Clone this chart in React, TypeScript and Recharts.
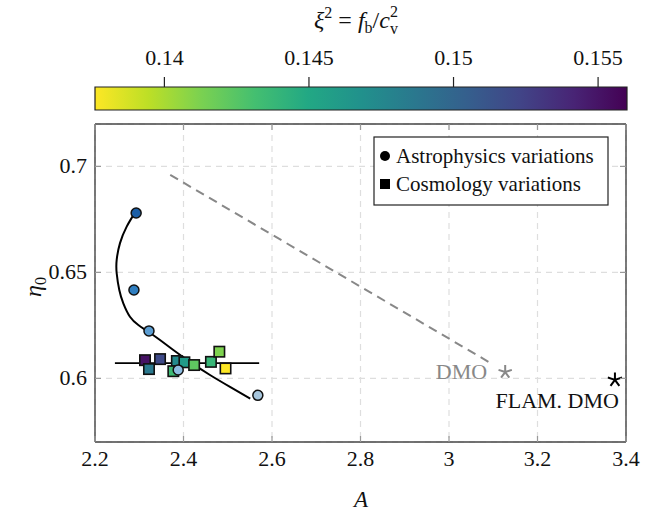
import React from 'react';
import { ComposedChart, Line, Scatter, XAxis, YAxis, CartesianGrid, ReferenceArea } from 'recharts';

// ---------- data ----------
const X_TICKS = [2.2, 2.4, 2.6, 2.8, 3.0, 3.2, 3.4];
const Y_TICKS = [0.6, 0.65, 0.7];
const X_DOMAIN = [2.2, 3.4];
const Y_DOMAIN = [0.57, 0.72];
const CB_TICKS = [0.14, 0.145, 0.15, 0.155];
const CB_DOMAIN = [0.1376, 0.156];

// Astrophysics variations (circles)
const ASTRO = [
  { x: 2.293, y: 0.678 },
  { x: 2.288, y: 0.6417 },
  { x: 2.322, y: 0.6224 },
  { x: 2.388, y: 0.604 },
  { x: 2.568, y: 0.592 },
];

// Cosmology variations (squares), xi = f_b / c_v^2
const COSMO = [
  { x: 2.313, y: 0.6086, xi: 0.1551 },
  { x: 2.347, y: 0.6091, xi: 0.1519 },
  { x: 2.322, y: 0.6044, xi: 0.1486 },
  { x: 2.385, y: 0.6082, xi: 0.1473 },
  { x: 2.402, y: 0.6076, xi: 0.146 },
  { x: 2.377, y: 0.6034, xi: 0.1435 },
  { x: 2.424, y: 0.6063, xi: 0.1422 },
  { x: 2.462, y: 0.6078, xi: 0.1438 },
  { x: 2.481, y: 0.6126, xi: 0.1412 },
  { x: 2.495, y: 0.6047, xi: 0.1376 },
];

// fitted curve through astrophysics variations
const ASTRO_FIT = [
  { x: 2.29, y: 0.6781 },
  { x: 2.2716, y: 0.6716 },
  { x: 2.2565, y: 0.6638 },
  { x: 2.249, y: 0.6559 },
  { x: 2.249, y: 0.6496 },
  { x: 2.2549, y: 0.6417 },
  { x: 2.264, y: 0.6354 },
  { x: 2.279, y: 0.6291 },
  { x: 2.2979, y: 0.6252 },
  { x: 2.3205, y: 0.622 },
  { x: 2.3469, y: 0.6181 },
  { x: 2.377, y: 0.6134 },
  { x: 2.4147, y: 0.6078 },
  { x: 2.4599, y: 0.6016 },
  { x: 2.5051, y: 0.596 },
  { x: 2.5508, y: 0.5905 },
];

// horizontal fit through cosmology variations
const COSMO_FIT = [
  { x: 2.245, y: 0.6072 },
  { x: 2.571, y: 0.6072 },
];

// dashed track towards DMO
const DMO_TRACK = [
  { x: 2.37, y: 0.696 },
  { x: 3.1, y: 0.6065 },
];

const DMO = [{ x: 3.127, y: 0.603, label: 'DMO' }];
const FLAM_DMO = [{ x: 3.375, y: 0.5993, label: 'FLAM. DMO' }];

const CB_DATA = [
  { x: CB_DOMAIN[0], y: 0 },
  { x: CB_DOMAIN[1], y: 1 },
];

// ---------- styles ----------
const FONT = '"Liberation Serif", "Times New Roman", serif';
const ASTRO_COLORS = ['#1b5ea6', '#2f7ec0', '#5b9dd2', '#8dbde2', '#a7c6dd'];
const VIRIDIS = ['#440154', '#482475', '#414487', '#355f8d', '#2a788e', '#21918c', '#22a884', '#44bf70', '#7ad151', '#bddf26', '#fde725'];

function hexToRgb(h: string) {
  return [parseInt(h.slice(1, 3), 16), parseInt(h.slice(3, 5), 16), parseInt(h.slice(5, 7), 16)];
}
function viridis(t: number) {
  const tt = Math.max(0, Math.min(1, t)) * (VIRIDIS.length - 1);
  const i = Math.min(VIRIDIS.length - 2, Math.floor(tt));
  const f = tt - i;
  const a = hexToRgb(VIRIDIS[i]);
  const b = hexToRgb(VIRIDIS[i + 1]);
  const c = a.map((v, k) => Math.round(v + (b[k] - v) * f));
  return `rgb(${c[0]},${c[1]},${c[2]})`;
}
// reversed colormap: low values yellow, high values purple
function xiColor(xi: number) {
  return viridis((CB_DOMAIN[1] - xi) / (CB_DOMAIN[1] - CB_DOMAIN[0]));
}

const TICK_COLOR = '#999';
const AXIS_LINE = { stroke: '#444', strokeWidth: 1.4 };
const TEXT_STYLE: React.CSSProperties = { fontFamily: FONT, fontSize: 22, fill: '#111' };

// ---------- custom ticks ----------
const BottomTick = (p: any) => (
  <g>
    <line x1={p.x} x2={p.x} y1={p.y} y2={p.y - 6} stroke={TICK_COLOR} strokeWidth={1.2} />
    <text x={p.x} y={p.y + 24} textAnchor="middle" style={TEXT_STYLE}>{String(p.payload.value)}</text>
  </g>
);
const TopTick = (p: any) => (
  <line x1={p.x} x2={p.x} y1={p.y} y2={p.y + 6} stroke={TICK_COLOR} strokeWidth={1.2} />
);
const LeftTick = (p: any) => (
  <g>
    <line x1={p.x} x2={p.x + 6} y1={p.y} y2={p.y} stroke={TICK_COLOR} strokeWidth={1.2} />
    <text x={p.x - 8} y={p.y + 7} textAnchor="end" style={TEXT_STYLE}>{String(p.payload.value)}</text>
  </g>
);
const RightTick = (p: any) => (
  <line x1={p.x} x2={p.x - 6} y1={p.y} y2={p.y} stroke={TICK_COLOR} strokeWidth={1.2} />
);
const CbTick = (p: any) => (
  <g>
    <line x1={p.x} x2={p.x} y1={p.y} y2={p.y - 10} stroke="#222" strokeWidth={1.2} />
    <text x={p.x} y={p.y - 22} textAnchor="middle" style={TEXT_STYLE}>{String(p.payload.value)}</text>
  </g>
);

// ---------- marker shapes ----------
const AstroDot = (p: any) => {
  const idx = ASTRO.findIndex((d) => d.x === p.payload?.x && d.y === p.payload?.y);
  return <circle cx={p.cx} cy={p.cy} r={5} fill={ASTRO_COLORS[Math.max(0, idx)]} stroke="#111" strokeWidth={1.5} />;
};
const CosmoSquare = (p: any) => (
  <rect x={p.cx - 5.2} y={p.cy - 5.2} width={10.4} height={10.4} fill={xiColor(p.payload.xi)} stroke="#111" strokeWidth={1.6} />
);
function starPath(cx: number, cy: number, r: number) {
  let d = '';
  for (let k = 0; k < 5; k++) {
    const a = (-90 + k * 72) * Math.PI / 180;
    d += `M${cx},${cy}L${cx + r * Math.cos(a)},${cy + r * Math.sin(a)}`;
  }
  return d;
}
const DmoStar = (p: any) => (
  <g>
    <path d={starPath(p.cx, p.cy, 7)} stroke="#888" strokeWidth={2} fill="none" />
    <text x={p.cx - 18} y={p.cy + 7} textAnchor="end" style={{ ...TEXT_STYLE, fill: '#888' }}>{p.payload.label}</text>
  </g>
);
const FlamStar = (p: any) => (
  <g>
    <path d={starPath(p.cx, p.cy, 7.5)} stroke="#000" strokeWidth={2} fill="none" />
    <text x={p.cx + 4} y={p.cy + 28} textAnchor="end" style={TEXT_STYLE}>{p.payload.label}</text>
  </g>
);

export default function App() {
  return (
    <div style={{ position: 'absolute', left: 0, top: 0, width: 665, height: 512, background: '#fff' }}>
      {/* colorbar */}
      <div style={{ position: 'absolute', left: 0, top: 0 }}>
        <ComposedChart width={665} height={120} data={CB_DATA} margin={{ top: 86, right: 38, bottom: 10, left: 95 }}>
          <defs>
            <linearGradient id="viridisBar" x1="0" y1="0" x2="1" y2="0">
              {VIRIDIS.map((_, i) => (
                <stop key={i} offset={i / (VIRIDIS.length - 1)} stopColor={viridis(1 - i / (VIRIDIS.length - 1))} />
              ))}
            </linearGradient>
          </defs>
          <XAxis dataKey="x" type="number" orientation="top" domain={CB_DOMAIN} ticks={CB_TICKS} allowDataOverflow
            height={1} tickSize={0} tickMargin={0} axisLine={false} tickLine={false} tick={<CbTick />} />
          <YAxis dataKey="y" type="number" domain={[0, 1]} hide />
          <Line dataKey="y" stroke="none" dot={false} isAnimationActive={false} />
          <ReferenceArea x1={CB_DOMAIN[0]} x2={CB_DOMAIN[1]} y1={0} y2={1} fill="url(#viridisBar)" fillOpacity={1} stroke="#222" strokeWidth={1.2} />
        </ComposedChart>
      </div>

      {/* main chart */}
      <div style={{ position: 'absolute', left: 0, top: 0 }}>
        <ComposedChart width={665} height={512} margin={{ top: 123, right: 38, bottom: 69, left: 94 }}>
          <CartesianGrid stroke="#dedede" strokeDasharray="6 5" strokeWidth={1.2} />
          <XAxis dataKey="x" type="number" domain={X_DOMAIN} ticks={X_TICKS} allowDataOverflow
            height={1} tickSize={0} tickMargin={0} axisLine={AXIS_LINE} tickLine={false} tick={<BottomTick />} />
          <XAxis xAxisId="top" dataKey="x" type="number" orientation="top" domain={X_DOMAIN} ticks={X_TICKS} allowDataOverflow
            height={1} tickSize={0} tickMargin={0} axisLine={AXIS_LINE} tickLine={false} tick={<TopTick />} />
          <YAxis dataKey="y" type="number" domain={Y_DOMAIN} ticks={Y_TICKS} allowDataOverflow
            width={1} tickSize={0} tickMargin={0} axisLine={AXIS_LINE} tickLine={false} tick={<LeftTick />} />
          <YAxis yAxisId="right" dataKey="y" type="number" orientation="right" domain={Y_DOMAIN} ticks={Y_TICKS} allowDataOverflow
            width={1} tickSize={0} tickMargin={0} axisLine={AXIS_LINE} tickLine={false} tick={<RightTick />} />

          <Line data={DMO_TRACK} dataKey="y" type="linear" stroke="#888" strokeWidth={2} strokeDasharray="9 6" dot={false} isAnimationActive={false} />
          <Line data={ASTRO_FIT} dataKey="y" type="natural" stroke="#000" strokeWidth={2} dot={false} isAnimationActive={false} />
          <Line data={COSMO_FIT} dataKey="y" type="linear" stroke="#000" strokeWidth={1.6} dot={false} isAnimationActive={false} />

          <Scatter data={COSMO} dataKey="y" shape={<CosmoSquare />} isAnimationActive={false} />
          <Scatter data={ASTRO} dataKey="y" shape={<AstroDot />} isAnimationActive={false} />
          <Scatter data={DMO} dataKey="y" shape={<DmoStar />} isAnimationActive={false} />
          <Scatter data={FLAM_DMO} dataKey="y" shape={<FlamStar />} isAnimationActive={false} />
        </ComposedChart>
      </div>

      {/* texts and legend overlay */}
      <svg width={665} height={512} style={{ position: 'absolute', left: 0, top: 0, pointerEvents: 'none' }}>
        <text x={356} y={28} textAnchor="middle" style={{ ...TEXT_STYLE, fontSize: 24 }}>
          <tspan fontStyle="italic">ξ</tspan>
          <tspan dy={-10} fontSize={16}>2</tspan>
          <tspan dy={10}> = </tspan>
          <tspan fontStyle="italic">f</tspan>
          <tspan dy={5} fontSize={16}>b</tspan>
          <tspan dy={-5}>/</tspan>
          <tspan fontStyle="italic">c</tspan>
          <tspan dy={-11} fontSize={16}>2</tspan>
          <tspan dx={-8} dy={17} fontSize={16}>v</tspan>
        </text>
        <text x={361} y={507} textAnchor="middle" style={{ ...TEXT_STYLE, fontSize: 23, fontStyle: 'italic' }}>A</text>
        <text transform="translate(41,287) rotate(-90)" textAnchor="middle" style={{ ...TEXT_STYLE, fontSize: 24 }}>
          <tspan fontStyle="italic">η</tspan>
          <tspan dy={5} fontSize={16}>0</tspan>
        </text>

        <g transform="translate(374,137)">
          <rect x={0} y={0} width={234} height={68} fill="#fff" stroke="#222" strokeWidth={1.2} />
          <circle cx={11} cy={19} r={5} fill="#000" />
          <text x={22} y={26} style={{ ...TEXT_STYLE, fontSize: 21 }}>Astrophysics variations</text>
          <rect x={6} y={42} width={10} height={10} fill="#000" />
          <text x={22} y={54} style={{ ...TEXT_STYLE, fontSize: 21 }}>Cosmology variations</text>
        </g>
      </svg>
    </div>
  );
}
